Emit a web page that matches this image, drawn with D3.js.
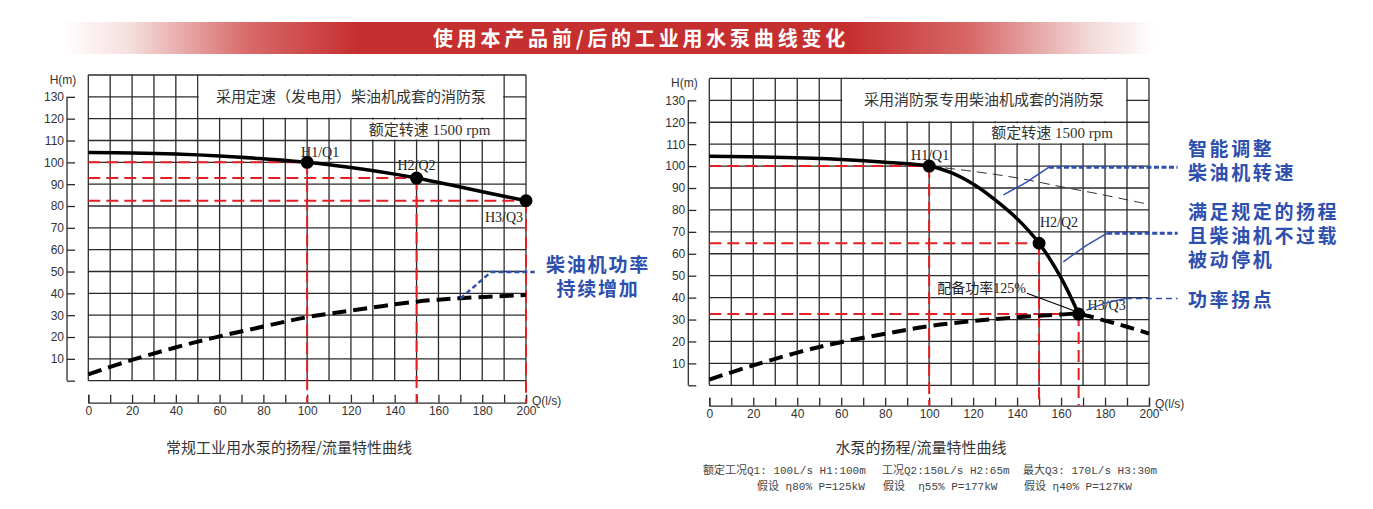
<!DOCTYPE html>
<html>
<head>
<meta charset="utf-8">
<script src="https://cdn.jsdelivr.net/npm/d3@7"></script>
<style>
  body { margin: 0; background: #fff; }
  svg { display: block; }
</style>
</head>
<body>
<div id="chart"></div>
<script>
// ---- data ----
var bannerTitle = "使用本产品前/后的工业用水泵曲线变化";

var qTicks = d3.range(0, 201, 10);
var qLabels = d3.range(0, 201, 20);
var hTicks = d3.range(0, 131, 10);
var hGrid = d3.range(0, 141, 10);

// left: fixed-speed (generator type) diesel set
var leftTitle = "采用定速（发电用）柴油机成套的消防泵";
var leftHead = [[0,104.5],[20,104.3],[40,103.8],[60,102.9],[80,101.6],[100,100],[120,97.6],[140,94.6],[150,92.8],[170,88.7],[185,85.5],[200,82.4]];
var leftPower = [[0,2.9],[20,9.5],[50,17.9],[80,24.8],[100,29.1],[120,32.1],[150,36.2],[170,37.8],[200,39.2]];
var leftOps = [[100,100],[150,92.8],[200,82.4]];
var leftNote = [[170,37.6],[184,49.8],[204,49.8]];
var leftNoteText = ["柴油机功率", "持续增加"];
var leftCaption = "常规工业用水泵的扬程/流量特性曲线";

// right: dedicated fire-pump diesel set
var rightTitle = "采用消防泵专用柴油机成套的消防泵";
var rightHead = [[0,104.5],[30,104],[60,103],[80,101.8],[100,100],[110,97],[120,91.8],[130,84.6],[140,76],[150,64.8],[160,49],[168,32.5]];
var rightHeadOld = [[100,100],[120,97.6],[140,94.6],[160,90.6],[180,86.7],[200,82.5]];
var rightPower = [[0,2.6],[20,9.1],[50,17.5],[80,23.5],[100,27],[120,29.3],[140,31],[160,32.3],[168,32.5],[180,29.5],[190,26.7],[200,23.6]];
var rightOps = [[100,100],[150,64.8],[168,32.5]];
var powerNote = "配备功率125%";
var powerNoteLine = [[144.5,42],[166.5,33.8]];
var rightCaption = "水泵的扬程/流量特性曲线";

var opLabels = ["H1/Q1", "H2/Q2", "H3/Q3"];
var rpmText = "额定转速 1500 rpm";

// blue call-outs on the right: thin hand line, then a dotted leader
var calloutLinks = [
  [[133.8,86.9],[144,92.5],[154.5,99.5]],
  [[161,56.3],[171,63.5],[181,69.4]],
  [[171.5,34.3],[180,37.5],[189.5,39.6]]
];
var calloutLeaders = [
  [[154.5,99.5],[213,99.5]],
  [[181,69.4],[213,69.4]],
  [[189.5,39.6],[213,39.6]]
];
var calloutTexts = [
  ["智能调整", "柴油机转速"],
  ["满足规定的扬程", "且柴油机不过载", "被动停机"],
  ["功率拐点"]
];

var infoLine1 = ["额定工况Q1: 100L/s H1:100m", "工况Q2:150L/s H2:65m", "最大Q3: 170L/s H3:30m"];
var infoLine2 = ["假设 η80% P=125kW", "假设  η55% P=177kW", "假设 η40% P=127KW"];

// ---- drawing ----
var W = 1373, H = 509;
var cjk = "'Noto Sans CJK SC', 'Noto Sans', sans-serif";
var serif = "'Liberation Serif', 'Noto Sans CJK SC', serif";
var mono = "'Liberation Mono', 'Noto Sans CJK SC', monospace";
var sans = "'Liberation Sans', Arial, sans-serif";
var blue = "#2d4fae";
var red = "#e31e24";
var gridColor = "#2b2b2b";

var svg = d3.select("#chart").append("svg")
    .attr("width", W)
    .attr("height", H)
    .style("font-family", cjk);

// banner
var grad = svg.append("defs").append("linearGradient").attr("id", "bannerGrad");
[[0,"#ffffff"],[0.06,"#f6e0e0"],[0.17,"#d86a6a"],[0.27,"#c62f30"],[0.72,"#c62f30"],[0.83,"#d76868"],[0.94,"#f3d8d8"],[1,"#ffffff"]]
  .forEach(function(s){ grad.append("stop").attr("offset", s[0]).attr("stop-color", s[1]); });

svg.append("rect")
    .attr("x", 62).attr("y", 22)
    .attr("width", 1093).attr("height", 32)
    .attr("fill", "url(#bannerGrad)");
svg.append("text")
    .attr("x", 641).attr("y", 46)
    .attr("text-anchor", "middle")
    .attr("fill", "#fff")
    .attr("font-size", 20)
    .attr("font-weight", "bold")
    .attr("letter-spacing", 3.8)
    .text(bannerTitle);

function drawPanel(p) {
  var x = d3.scaleLinear().domain([0, 200]).range([p.x0, p.x1]);
  var y = d3.scaleLinear().domain([0, 140]).range([p.y0, p.y1]);
  var g = svg.append("g");
  var line = d3.line().x(function(d){ return x(d[0]); }).y(function(d){ return y(d[1]); });
  var smooth = d3.line().curve(d3.curveCatmullRom.alpha(0.5)).x(function(d){ return x(d[0]); }).y(function(d){ return y(d[1]); });

  // grid
  g.append("g").selectAll("line").data(qTicks).enter().append("line")
      .attr("x1", function(d){ return x(d); }).attr("x2", function(d){ return x(d); })
      .attr("y1", y(0)).attr("y2", y(140))
      .attr("stroke", gridColor).attr("stroke-width", 1.3);
  g.append("g").selectAll("line").data(hGrid).enter().append("line")
      .attr("y1", function(d){ return y(d); }).attr("y2", function(d){ return y(d); })
      .attr("x1", x(0)).attr("x2", x(200))
      .attr("stroke", gridColor).attr("stroke-width", 1.3);

  // white boxes behind the title and speed note
  g.append("rect")
      .attr("x", x(p.titleFrom) + 1).attr("y", y(140) + 1)
      .attr("width", x(190) - x(p.titleFrom) - 2).attr("height", y(120) - y(140) - 2)
      .attr("fill", "#fff");
  g.append("rect")
      .attr("x", x(120) + 1).attr("y", y(120) + 1)
      .attr("width", x(190) - x(120) - 2).attr("height", y(110) - y(120) - 2)
      .attr("fill", "#fff");
  g.append("text")
      .attr("x", (x(p.titleFrom) + x(190)) / 2).attr("y", y(130) + 5)
      .attr("text-anchor", "middle").attr("font-size", 15).attr("fill", "#333")
      .text(p.title);
  g.append("text")
      .attr("x", (x(120) + x(190)) / 2 + 2).attr("y", y(115) + 5)
      .attr("text-anchor", "middle").attr("font-size", 15).attr("fill", "#333")
      .style("font-family", serif)
      .text(rpmText);

  // axes
  var yAxis = g.append("g")
      .attr("transform", "translate(" + p.yAxisX + ",0)")
      .call(d3.axisLeft(y).tickValues(hTicks).tickSize(-8).tickPadding(3)
        .tickFormat(function(d){ return d === 0 ? "" : d; }));
  var xAxis = g.append("g")
      .attr("transform", "translate(0," + p.xAxisY + ")")
      .call(d3.axisBottom(x).tickValues(qTicks).tickSize(-8).tickPadding(4)
        .tickFormat(function(d){ return qLabels.indexOf(d) >= 0 ? d : ""; }));
  [yAxis, xAxis].forEach(function(a){
    a.selectAll("path.domain").attr("stroke", gridColor).attr("stroke-width", 1.3);
    a.selectAll(".tick line").attr("stroke", gridColor).attr("stroke-width", 1.3);
    a.selectAll("text").attr("fill", "#333").attr("font-size", 12)
      .style("font-family", sans);
  });
  // axisLeft draws the whole domain; trim to 0..130
  yAxis.select("path.domain").attr("d", "M0," + y(130) + "V" + y(0));
  g.append("text")
      .attr("x", p.yAxisX - 4).attr("y", y(140) + 9)
      .attr("text-anchor", "middle").attr("font-size", 12).attr("fill", "#333")
      .style("font-family", sans)
      .text("H(m)");
  g.append("text")
      .attr("x", x(200) + 6).attr("y", p.xAxisY + 2)
      .attr("font-size", 12).attr("fill", "#333")
      .style("font-family", sans)
      .text("Q(l/s)");

  // red guide lines to the operating points
  p.ops.forEach(function(o){
    g.append("path")
        .attr("d", line([[0, o[1]], o]))
        .attr("stroke", red).attr("stroke-width", 2).attr("fill", "none")
        .attr("stroke-dasharray", "12,6");
    g.append("path")
        .attr("d", "M" + x(o[0]) + "," + y(o[1]) + "V" + p.xAxisY)
        .attr("stroke", red).attr("stroke-width", 2).attr("fill", "none")
        .attr("stroke-dasharray", "12,6");
  });

  if (p.headOld) {
    g.append("path").attr("d", smooth(p.headOld))
        .attr("stroke", "#333").attr("stroke-width", 1).attr("fill", "none")
        .attr("stroke-dasharray", "10,6");
  }

  // power curve (dashed) and head curve (solid)
  g.append("path").attr("d", smooth(p.power))
      .attr("stroke", "#000").attr("stroke-width", 4).attr("fill", "none")
      .attr("stroke-dasharray", "14,7");
  g.append("path").attr("d", smooth(p.head))
      .attr("stroke", "#000").attr("stroke-width", 3.5).attr("fill", "none");

  // operating points
  g.append("g").selectAll("circle").data(p.ops).enter().append("circle")
      .attr("cx", function(d){ return x(d[0]); })
      .attr("cy", function(d){ return y(d[1]); })
      .attr("r", 5.5)
      .attr("fill", "#000")
      .attr("stroke", "#000").attr("stroke-width", 2);
  g.append("g").selectAll("text").data(p.ops).enter().append("text")
      .attr("x", function(d, i){ return x(d[0]) + p.labelOff[i][0]; })
      .attr("y", function(d, i){ return y(d[1]) + p.labelOff[i][1]; })
      .attr("text-anchor", "middle").attr("font-size", 14).attr("fill", "#222")
      .style("font-family", serif)
      .text(function(d, i){ return opLabels[i]; });

  g.append("text")
      .attr("x", p.captionX).attr("y", 453)
      .attr("text-anchor", "middle").attr("font-size", 15).attr("fill", "#333")
      .text(p.caption);

  return {g: g, x: x, y: y, line: line};
}

var left = drawPanel({
  x0: 88.3, x1: 526, y0: 380.7, y1: 75,
  yAxisX: 67, xAxisY: 402.7,
  title: leftTitle, titleFrom: 50,
  head: leftHead, power: leftPower, ops: leftOps,
  labelOff: [[13,-5],[0,-8],[-22,21]],
  caption: leftCaption, captionX: 289
});

var right = drawPanel({
  x0: 709.3, x1: 1149, y0: 385.3, y1: 78.4,
  yAxisX: 688.3, xAxisY: 405.7,
  title: rightTitle, titleFrom: 60,
  head: rightHead, headOld: rightHeadOld, power: rightPower, ops: rightOps,
  labelOff: [[1,-6],[20,-16],[28,-4]],
  caption: rightCaption, captionX: 921
});

// left call-out
left.g.append("path").attr("d", left.line(leftNote))
    .attr("stroke", blue).attr("stroke-width", 2.5).attr("fill", "none")
    .attr("stroke-dasharray", "5,3");
left.g.append("g").selectAll("text").data(leftNoteText).enter().append("text")
    .attr("x", 598).attr("y", function(d, i){ return 272 + i * 24; })
    .attr("text-anchor", "middle").attr("font-size", 19).attr("font-weight", "bold")
    .attr("letter-spacing", 1.8).attr("fill", blue)
    .text(function(d){ return d; });

// right: power note with leader line
right.g.append("path").attr("d", right.line(powerNoteLine))
    .attr("stroke", "#000").attr("stroke-width", 1.2).attr("fill", "none");
right.g.append("text")
    .attr("x", right.x(powerNoteLine[0][0]) - 1).attr("y", right.y(powerNoteLine[0][1]) - 0.5)
    .attr("text-anchor", "end").attr("font-size", 14).attr("fill", "#222")
    .style("font-family", serif)
    .text(powerNote);

// right call-outs
var textTops = [149, 212, 300];
calloutLinks.forEach(function(seg, i){
  right.g.append("path").attr("d", right.line(seg))
      .attr("stroke", blue).attr("stroke-width", 1.4).attr("fill", "none");
  right.g.append("path").attr("d", right.line(calloutLeaders[i]))
      .attr("stroke", blue).attr("fill", "none")
      .attr("stroke-width", i === 2 ? 1.6 : 3)
      .attr("stroke-dasharray", i === 2 ? "6,4" : "5,2.5");
  right.g.append("g").selectAll("text").data(calloutTexts[i]).enter().append("text")
      .attr("x", 1188).attr("y", function(d, j){ return textTops[i] + 7 + j * 24; })
      .attr("font-size", 19).attr("font-weight", "bold")
      .attr("letter-spacing", 2.6).attr("fill", blue)
      .text(function(d){ return d; });
});

// working-condition notes under the right chart
var infoX1 = [703, 882, 1023];
var infoX2 = [757, 883, 1024];
svg.append("g").selectAll("text").data(infoLine1).enter().append("text")
    .attr("x", function(d, i){ return infoX1[i]; }).attr("y", 474)
    .attr("font-size", 11).attr("fill", "#444")
    .style("font-family", mono).style("white-space", "pre")
    .text(function(d){ return d; });
svg.append("g").selectAll("text").data(infoLine2).enter().append("text")
    .attr("x", function(d, i){ return infoX2[i]; }).attr("y", 490)
    .attr("font-size", 11).attr("fill", "#444")
    .style("font-family", mono).style("white-space", "pre")
    .text(function(d){ return d; });
</script>
</body>
</html>
